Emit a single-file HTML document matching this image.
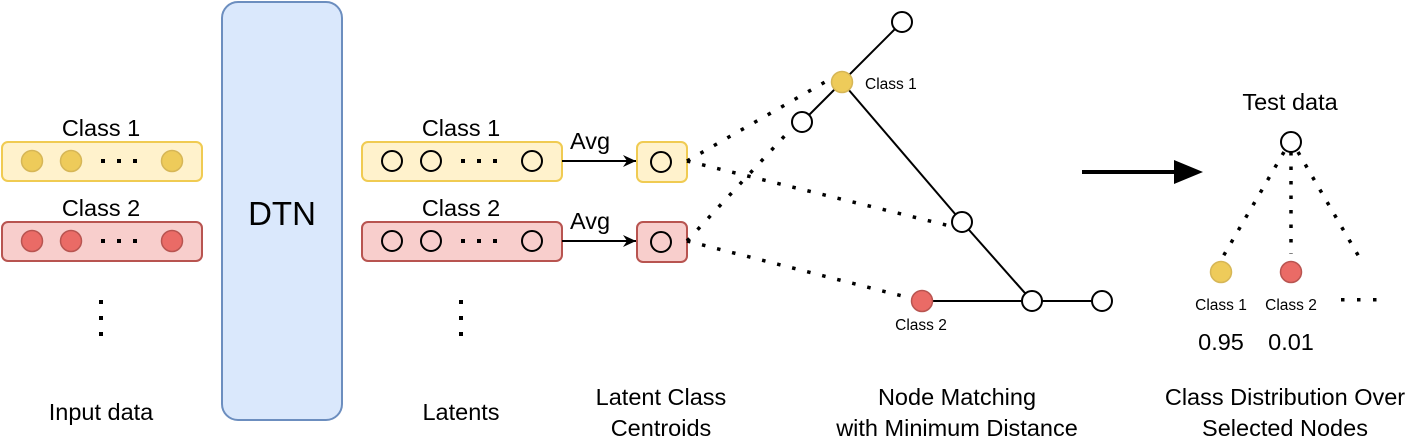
<!DOCTYPE html>
<html><head><style>body{margin:0;background:#fff}svg{display:block}text{font-family:"Liberation Sans",Arial,sans-serif;fill:#000}</style></head><body>
<svg width="1414" height="445" viewBox="0 0 1414 445" xmlns="http://www.w3.org/2000/svg">
<defs><marker id="ah" markerWidth="14" markerHeight="14" refX="13" refY="6" orient="auto" markerUnits="userSpaceOnUse"><path d="M0,0 L13,6 L0,12 L4,6 Z" fill="#000"/></marker></defs>
<!-- input -->
<text x="101" y="136" font-size="23.5" text-anchor="middle">Class 1</text>
<rect x="2" y="142" width="200" height="39" rx="6" fill="#fff2cc" stroke="#f0cb52" stroke-width="2"/>
<g fill="#eecb5a" stroke="#d6b656" stroke-width="1.5"><circle cx="32" cy="161" r="10.5"/><circle cx="71" cy="161" r="10.5"/><circle cx="172" cy="161" r="10.5"/></g>
<g fill="#000"><rect x="101" y="159" width="4" height="4"/><rect x="117" y="159" width="4" height="4"/><rect x="133" y="159" width="4" height="4"/></g>
<text x="101" y="216" font-size="23.5" text-anchor="middle">Class 2</text>
<rect x="2" y="222" width="200" height="39" rx="6" fill="#f8cecc" stroke="#b85450" stroke-width="2"/>
<g fill="#ea6b66" stroke="#b85450" stroke-width="1.5"><circle cx="32" cy="241" r="10.5"/><circle cx="71" cy="241" r="10.5"/><circle cx="172" cy="241" r="10.5"/></g>
<g fill="#000"><rect x="101" y="239" width="4" height="4"/><rect x="117" y="239" width="4" height="4"/><rect x="133" y="239" width="4" height="4"/>
<rect x="99" y="300" width="4" height="4"/><rect x="99" y="316" width="4" height="4"/><rect x="99" y="332" width="4" height="4"/>
<rect x="459" y="300" width="4" height="4"/><rect x="459" y="316" width="4" height="4"/><rect x="459" y="332" width="4" height="4"/></g>
<text x="101" y="420" font-size="23.5" text-anchor="middle">Input data</text>
<!-- DTN -->
<rect x="222" y="2" width="120" height="418" rx="16" fill="#dae8fc" stroke="#6c8ebf" stroke-width="2"/>
<text x="282" y="225" font-size="33" text-anchor="middle">DTN</text>
<!-- latents -->
<text x="461" y="136" font-size="23.5" text-anchor="middle">Class 1</text>
<rect x="362" y="142" width="200" height="39" rx="6" fill="#fff2cc" stroke="#f0cb52" stroke-width="2"/>
<text x="461" y="216" font-size="23.5" text-anchor="middle">Class 2</text>
<rect x="362" y="222" width="200" height="39" rx="6" fill="#f8cecc" stroke="#b85450" stroke-width="2"/>
<g fill="none" stroke="#000" stroke-width="2"><circle cx="392" cy="161" r="10"/><circle cx="431" cy="161" r="10"/><circle cx="532" cy="161" r="10"/><circle cx="392" cy="241" r="10"/><circle cx="431" cy="241" r="10"/><circle cx="532" cy="241" r="10"/></g>
<g fill="#000"><rect x="461" y="159" width="4" height="4"/><rect x="477" y="159" width="4" height="4"/><rect x="493" y="159" width="4" height="4"/><rect x="461" y="239" width="4" height="4"/><rect x="477" y="239" width="4" height="4"/><rect x="493" y="239" width="4" height="4"/></g>
<text x="461" y="420" font-size="23.5" text-anchor="middle">Latents</text>
<!-- avg arrows -->
<g stroke="#000" stroke-width="2"><line x1="562" y1="161" x2="636" y2="161" marker-end="url(#ah)"/><line x1="562" y1="241" x2="636" y2="241" marker-end="url(#ah)"/></g>
<text x="590" y="149" font-size="23.5" text-anchor="middle">Avg</text>
<text x="590" y="229" font-size="23.5" text-anchor="middle">Avg</text>
<rect x="637" y="142" width="50" height="40" rx="6" fill="#fff2cc" stroke="#f0cb52" stroke-width="2"/>
<rect x="637" y="222" width="50" height="40" rx="6" fill="#f8cecc" stroke="#b85450" stroke-width="2"/>
<g fill="none" stroke="#000" stroke-width="2"><circle cx="661" cy="162" r="10"/><circle cx="661" cy="242" r="10"/></g>
<text x="661" y="405" font-size="23.5" text-anchor="middle">Latent Class</text>
<text x="661" y="436" font-size="23.5" text-anchor="middle">Centroids</text>
<!-- dotted -->
<g stroke="#000" stroke-width="3.5" stroke-dasharray="3.5 12" fill="none">
<line x1="687" y1="161" x2="832" y2="78"/>
<line x1="687" y1="161" x2="954" y2="227"/>
<line x1="687" y1="241" x2="792" y2="128"/>
<line x1="687" y1="241" x2="910" y2="298"/>
</g>
<!-- tree -->
<g stroke="#000" stroke-width="2"><line x1="902" y1="22" x2="802" y2="122"/><line x1="842" y1="82" x2="962" y2="222"/><line x1="962" y1="222" x2="1032" y2="301"/><line x1="922" y1="301" x2="1102" y2="301"/></g>
<g fill="#fff" stroke="#000" stroke-width="2"><circle cx="902" cy="22" r="10"/><circle cx="802" cy="122" r="10"/><circle cx="962" cy="222" r="10"/><circle cx="1032" cy="301" r="10"/><circle cx="1102" cy="301" r="10"/></g>
<circle cx="842" cy="82" r="10.5" fill="#eecb5a" stroke="#d6b656" stroke-width="1.5"/>
<circle cx="922" cy="301" r="10.5" fill="#ea6b66" stroke="#b85450" stroke-width="1.5"/>
<text x="865" y="89" font-size="15.5">Class 1</text>
<text x="921" y="330" font-size="15.5" text-anchor="middle">Class 2</text>
<text x="957" y="405" font-size="23.5" text-anchor="middle">Node Matching</text>
<text x="957" y="436" font-size="23.5" text-anchor="middle">with Minimum Distance</text>
<!-- big arrow -->
<line x1="1082" y1="172" x2="1180" y2="172" stroke="#000" stroke-width="4"/>
<path d="M1174,160 L1203,172 L1174,184 Z" fill="#000"/>
<!-- test -->
<text x="1290" y="110" font-size="23.5" text-anchor="middle">Test data</text>
<g stroke="#000" stroke-width="3.5" stroke-dasharray="3.5 11" fill="none">
<line x1="1284" y1="152" x2="1221" y2="260"/>
<line x1="1291" y1="152" x2="1291" y2="254"/>
<line x1="1298" y1="152" x2="1362" y2="262"/>
</g>
<circle cx="1291" cy="142" r="10" fill="#fff" stroke="#000" stroke-width="2"/>
<circle cx="1221" cy="272" r="10.5" fill="#eecb5a" stroke="#d6b656" stroke-width="1.5"/>
<circle cx="1291" cy="272" r="10.5" fill="#ea6b66" stroke="#b85450" stroke-width="1.5"/>
<text x="1221" y="310" font-size="15.5" text-anchor="middle">Class 1</text>
<text x="1291" y="310" font-size="15.5" text-anchor="middle">Class 2</text>
<g fill="#000"><rect x="1341" y="298" width="3.5" height="3.5"/><rect x="1357" y="298" width="3.5" height="3.5"/><rect x="1373" y="298" width="3.5" height="3.5"/></g>
<text x="1221" y="350" font-size="23.5" text-anchor="middle">0.95</text>
<text x="1291" y="350" font-size="23.5" text-anchor="middle">0.01</text>
<text x="1285" y="405" font-size="23.5" text-anchor="middle">Class Distribution Over</text>
<text x="1285" y="436" font-size="23.5" text-anchor="middle">Selected Nodes</text>
</svg>
</body></html>
